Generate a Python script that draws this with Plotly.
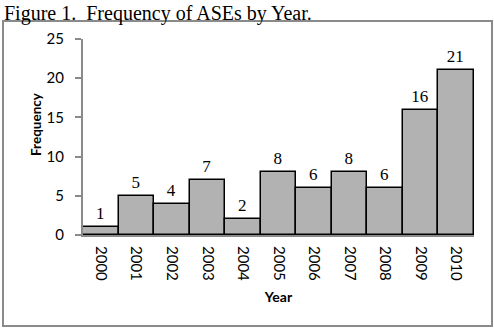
import plotly.graph_objects as go

years = ["2000", "2001", "2002", "2003", "2004", "2005",
         "2006", "2007", "2008", "2009", "2010"]
frequency = [1, 5, 4, 7, 2, 8, 6, 8, 6, 16, 21]

W, H = 494, 329
L, R, T, B = 83, 20, 39, 94
pw, ph = W - L - R, H - T - B


def px_x(v):
    return (v - L) / pw


def px_y(v):
    return (H - B - v) / ph


fig = go.Figure(go.Bar(
    x=years,
    y=frequency,
    marker=dict(color="#b2b2b2", line=dict(color="black", width=1.5)),
    text=[str(v) for v in frequency],
    textposition="outside",
    textfont=dict(family="Liberation Serif", size=17, color="black"),
    cliponaxis=False,
))

fig.update_layout(
    width=W, height=H,
    margin=dict(l=L, r=R, t=T, b=B),
    paper_bgcolor="white", plot_bgcolor="white",
    bargap=0,
    showlegend=False,
    xaxis=dict(
        type="category",
        showgrid=False, ticks="",
        showline=True, linecolor="#8a8a8a", linewidth=2,
        tickangle=90, ticklabelstandoff=6,
        tickfont=dict(family="Lato", size=15, color="black"),
        title=dict(text="<b>Year</b>", font=dict(family="Lato", size=14, color="black"), standoff=12),
    ),
    yaxis=dict(
        range=[0, 25], dtick=5,
        showgrid=False, zeroline=False,
        showline=True, linecolor="#8a8a8a", linewidth=2,
        ticks="outside", ticklen=6, tickcolor="#8a8a8a", tickwidth=2,
        ticklabelstandoff=8,
        tickfont=dict(family="Lato", size=15, color="black"),
    ),
    shapes=[dict(
        type="rect", xref="paper", yref="paper",
        x0=px_x(3), x1=px_x(492), y0=px_y(326), y1=px_y(21),
        line=dict(color="#8a8a8a", width=2), fillcolor="rgba(0,0,0,0)",
        layer="below",
    )],
    annotations=[
        dict(
            text="Figure 1.  Frequency of ASEs by Year.",
            xref="paper", yref="paper",
            x=px_x(2), y=px_y(0),
            xanchor="left", yanchor="top", showarrow=False,
            font=dict(family="Liberation Serif", size=20, color="black"),
        ),
        dict(
            text="<b>Frequency</b>",
            xref="paper", yref="paper",
            x=px_x(36), y=px_y(124),
            xanchor="center", yanchor="middle", showarrow=False,
            textangle=-90,
            font=dict(family="Lato", size=13.5, color="black"),
        ),
    ],
)

fig.write_html("out.html")
